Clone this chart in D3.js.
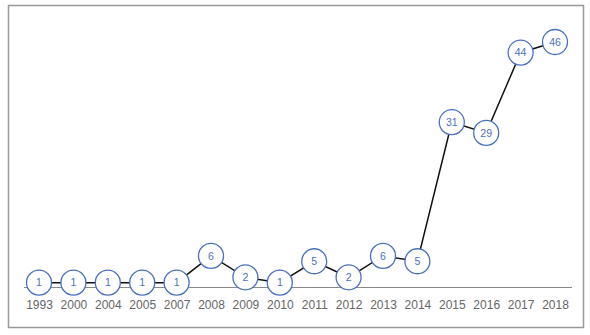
<!DOCTYPE html>
<html><head><meta charset="utf-8">
<script src="https://cdn.jsdelivr.net/npm/d3@7"></script>
<style>body{margin:0;background:#fff}svg{display:block}</style>
</head><body>
<script>
const years = ["1993","2000","2004","2005","2007","2008","2009","2010","2011","2012","2013","2014","2015","2016","2017","2018"];
const counts = [1,1,1,1,1,6,2,1,5,2,6,5,31,29,44,46];

const W = 590, H = 335;
const svg = d3.select("body").append("svg").attr("width", W).attr("height", H);

svg.append("rect").attr("x", 8.5).attr("y", 5.5).attr("width", 575).attr("height", 322)
  .attr("fill", "#fff").attr("stroke", "#999").attr("stroke-width", 1.5);

const x = d3.scalePoint().domain(years).range([39, 555]);
const y = d3.scaleLinear().domain([0, 46]).range([288, 42]);

// baseline
svg.append("line").attr("x1", 24).attr("x2", 572).attr("y1", 287.5).attr("y2", 287.5)
  .attr("stroke", "#8a8a8a").attr("stroke-width", 1.2);

const axis = d3.axisBottom(x).tickSize(0).tickPadding(0);
const ax = svg.append("g").attr("transform", "translate(0,300)").call(axis);
ax.select(".domain").remove();
ax.selectAll("text").attr("font-family", "Liberation Sans, Arial, sans-serif")
  .attr("font-size", 12).attr("fill", "#666").attr("dy", "0.71em");

const data = years.map((yr, i) => ({yr, v: counts[i]}));
const line = d3.line().x(d => x(d.yr)).y(d => y(d.v));
svg.append("path").datum(data).attr("d", line).attr("fill", "none")
  .attr("stroke", "#111").attr("stroke-width", 1.5);

const g = svg.selectAll("g.pt").data(data).join("g").attr("class", "pt")
  .attr("transform", d => `translate(${x(d.yr)},${y(d.v)})`);
g.append("circle").attr("r", 12.5).attr("fill", "#fff").attr("stroke", "#4a6fc0").attr("stroke-width", 1.3);
g.append("text").text(d => d.v).attr("text-anchor", "middle").attr("dy", "0.35em")
  .attr("font-family", "Liberation Sans, Arial, sans-serif").attr("font-size", 10.5).attr("fill", "#4a6fc0");
</script>
</body></html>
